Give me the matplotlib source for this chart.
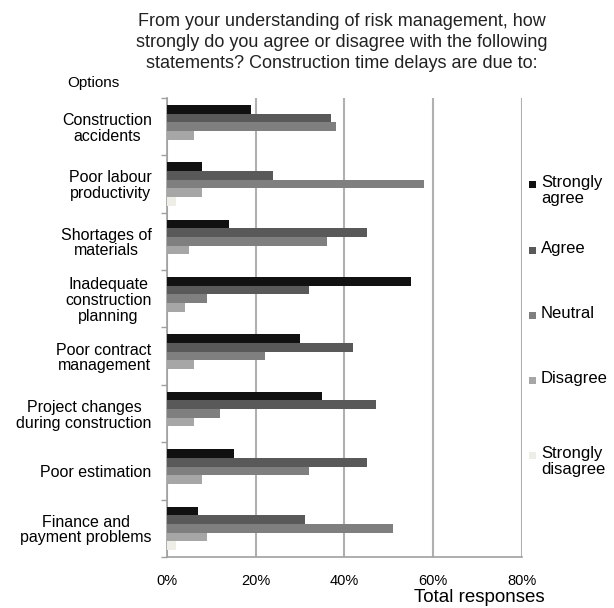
import matplotlib.pyplot as plt
import numpy as np
from matplotlib.patches import Rectangle

plt.rcParams['font.family'] = ['Liberation Sans', 'DejaVu Sans']

categories = ['Construction\naccidents', 'Poor labour\nproductivity', 'Shortages of\nmaterials',
              'Inadequate\nconstruction\nplanning', 'Poor contract\nmanagement',
              'Project changes\nduring construction', 'Poor estimation',
              'Finance and\npayment problems']
series = ['Strongly\nagree', 'Agree', 'Neutral', 'Disagree', 'Strongly\ndisagree']
strongly_agree = [19, 8, 14, 55, 30, 35, 15, 7]
agree = [37, 24, 45, 32, 42, 47, 45, 31]
neutral = [38, 58, 36, 9, 22, 12, 32, 51]
disagree = [6, 8, 5, 4, 6, 6, 8, 9]
strongly_disagree = [0, 2, 0, 0, 0, 0, 0, 2]
colors = ['#111111', '#595959', '#7f7f7f', '#a6a6a6', '#eeeee6']

values = [strongly_agree, agree, neutral, disagree, strongly_disagree]

fig = plt.figure(figsize=(6.14, 6.08), dpi=100)
ax = fig.add_axes([0.272, 0.084, 0.578, 0.755])

n = len(categories)
centers = np.arange(n)[::-1].astype(float)
h = 0.151
for i, (vals, c) in enumerate(zip(values, colors)):
    ax.barh(centers + (2 - i) * h, vals, height=h, color=c, label=series[i], zorder=3)

ax.set_xlim(0, 80)
ax.set_ylim(-0.5, n - 0.5)
ax.set_xticks([0, 20, 40, 60, 80])
ax.set_xticklabels(['0%', '20%', '40%', '60%', '80%'], fontsize=10.5)
ax.tick_params(axis='x', length=0, pad=12)
ax.set_yticks(centers)
ax.set_yticklabels(categories, fontsize=11.5, multialignment='center', linespacing=1.05)
ax.tick_params(axis='y', which='major', length=0, pad=11)
ax.set_yticks(np.arange(-0.5, n, 1.0), minor=True)
ax.tick_params(axis='y', which='minor', length=4, color='#a0a0a0', width=1)
ax.grid(axis='x', color='#b0b0b0', linewidth=1.5, zorder=0)
for s in ['top', 'right']:
    ax.spines[s].set_visible(False)
for s in ['left', 'bottom']:
    ax.spines[s].set_color('#a0a0a0')
    ax.spines[s].set_linewidth(1.2)

fig.text(0.556, 0.979, 'From your understanding of risk management, how\n'
         'strongly do you agree or disagree with the following\n'
         'statements? Construction time delays are due to:',
         ha='center', va='top', fontsize=13, color='#222222', linespacing=1.3)
fig.text(0.110, 0.863, 'Options', ha='left', va='center', fontsize=11)
fig.text(0.780, 0.018, 'Total responses', ha='center', va='center', fontsize=13.5)

# legend
ys = [184, 250, 315, 380, 455]
for lab, c, y in zip(series, colors, ys):
    fy = 1 - y / 608
    fig.patches.append(Rectangle((0.862, fy - 0.0065), 0.0115, 0.0115, transform=fig.transFigure,
                                 facecolor=c, edgecolor='none'))
    fig.text(0.881, fy + 0.014, lab, ha='left', va='top', fontsize=12, linespacing=1.05)

fig.savefig('out.png', dpi=100)
